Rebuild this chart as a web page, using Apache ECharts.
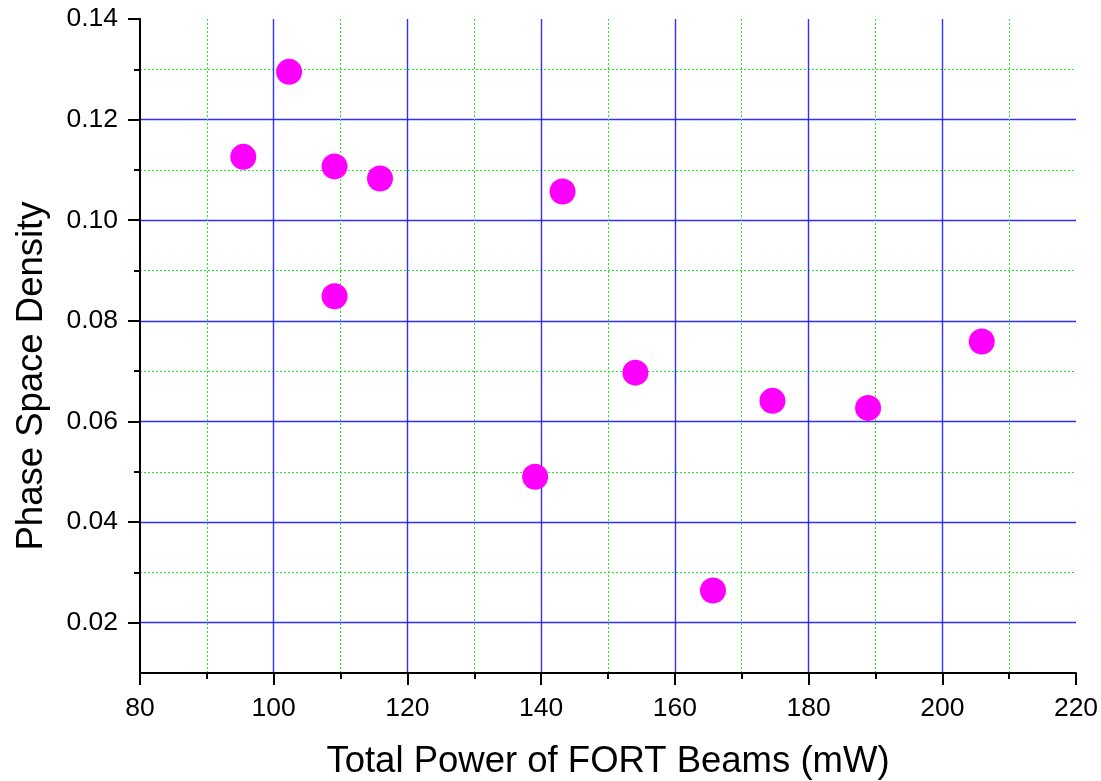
<!DOCTYPE html>
<html>
<head>
<meta charset="utf-8">
<title>Phase Space Density vs FORT Beam Power</title>
<script src="https://cdn.jsdelivr.net/npm/echarts@6/dist/echarts.min.js"></script>
<style>
  html, body { margin: 0; padding: 0; background: #ffffff; }
  #chart { width: 1101px; height: 781px; }
</style>
</head>
<body>
<div id="chart"></div>
<script>
// Measured points: total FORT beam power (mW) and resulting phase space density
const powerMw = [95.45, 102.3, 109.1, 115.9, 109.1, 143.2, 139.1, 154.1, 165.7, 174.6, 188.9, 205.9];
const phaseSpaceDensity = [0.1126, 0.1295, 0.1107, 0.1083, 0.0849, 0.1057, 0.0490, 0.0697, 0.0264, 0.0641, 0.0627, 0.0759];

// Y tick positions: labelled majors and unlabelled minors
const yMajorTicks = [0.02, 0.04, 0.06, 0.08, 0.10, 0.12, 0.14];
const yMinorTicks = [0.03, 0.05, 0.07, 0.09, 0.11, 0.13];

const xTitle = 'Total Power of FORT Beams (mW)';
const yTitle = 'Phase Space Density';

const FONT = '"Liberation Sans", Arial, sans-serif';

function majorGrid() {
  return { color: '#1a1aff', width: 1.4, type: 'solid', opacity: 0.9 };
}
function minorGrid() {
  return { color: '#22ee22', width: 1, type: [2, 2] };
}

const chart = echarts.init(document.getElementById('chart'), null, { renderer: 'canvas' });

const points = powerMw.map((x, i) => [x, phaseSpaceDensity[i]]);

chart.setOption({
  animation: false,
  backgroundColor: '#ffffff',
  grid: { left: 140, right: 25, top: 19, bottom: 108, containLabel: false, outerBoundsMode: 'none' },
  xAxis: {
    type: 'value',
    min: 80,
    max: 220,
    interval: 20,
    name: xTitle,
    nameLocation: 'middle',
    nameGap: 70,
    nameTextStyle: { fontFamily: FONT, fontSize: 36.5, color: '#000000' },
    axisLine: { show: true, onZero: false, lineStyle: { color: '#000000', width: 2 } },
    axisTick: { show: true, inside: false, length: 12, lineStyle: { color: '#000000', width: 2 } },
    minorTick: { show: true, splitNumber: 2, length: 6, lineStyle: { color: '#000000', width: 2 } },
    axisLabel: { fontFamily: FONT, fontSize: 26.5, color: '#000000', margin: 22 },
    splitLine: { show: true, showMinLine: false, showMaxLine: false, lineStyle: majorGrid() },
    minorSplitLine: { show: true, lineStyle: minorGrid() }
  },
  yAxis: [
    {
      type: 'value',
      min: 0.01,
      max: 0.14,
      name: yTitle,
      nameLocation: 'middle',
      nameGap: 90,
      nameTextStyle: { fontFamily: FONT, fontSize: 36.5, color: '#000000', padding: [0, 60, 0, 0] },
      axisLine: { show: true, onZero: false, lineStyle: { color: '#000000', width: 2 } },
      axisTick: { show: true, inside: false, length: 12, customValues: yMajorTicks, lineStyle: { color: '#000000', width: 2 } },
      axisLabel: {
        fontFamily: FONT, fontSize: 26.5, color: '#000000', margin: 22,
        customValues: yMajorTicks,
        formatter: v => v.toFixed(2)
      },
      splitLine: { show: true, showMinLine: true, showMaxLine: false, lineStyle: majorGrid() }
    },
    {
      type: 'value',
      min: 0.01,
      max: 0.14,
      position: 'left',
      offset: 0,
      axisLine: { show: false },
      axisTick: { show: true, inside: false, length: 6, customValues: yMinorTicks, lineStyle: { color: '#000000', width: 2 } },
      axisLabel: { show: false, customValues: yMinorTicks },
      splitLine: { show: true, showMinLine: true, showMaxLine: true, lineStyle: minorGrid() }
    }
  ],
  series: [
    {
      type: 'scatter',
      xAxisIndex: 0,
      yAxisIndex: 0,
      data: points,
      symbol: 'circle',
      symbolSize: 26,
      itemStyle: { color: '#ff00ff', opacity: 1 },
      z: 5
    }
  ]
});
</script>
</body>
</html>
